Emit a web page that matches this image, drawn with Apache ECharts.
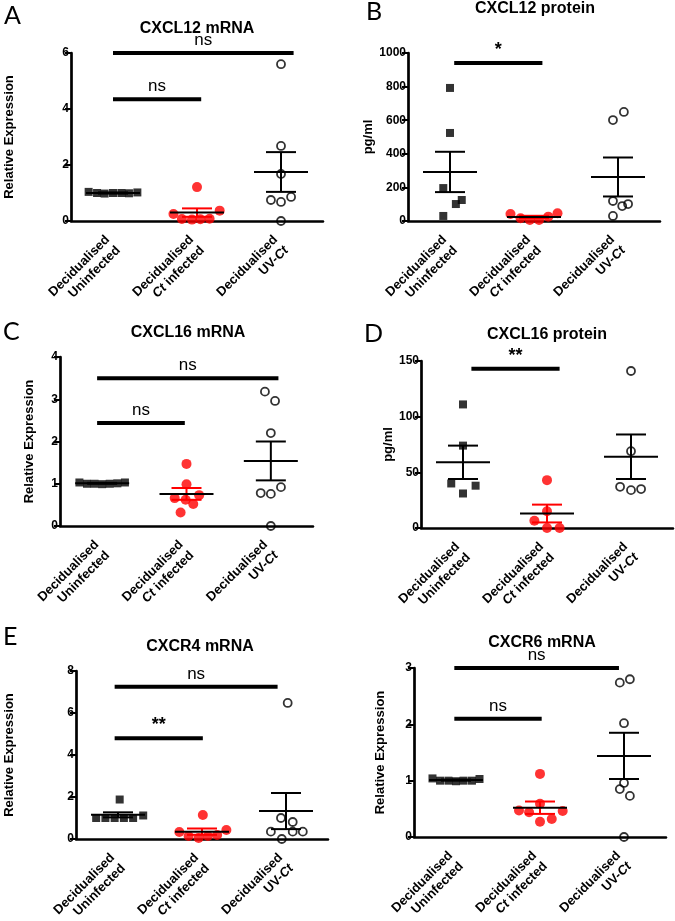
<!DOCTYPE html>
<html>
<head>
<meta charset="utf-8">
<title>Chemokine expression in decidualised cells</title>
<script src="https://cdn.jsdelivr.net/npm/echarts@6/dist/echarts.min.js"></script>
<style>
html, body { margin: 0; padding: 0; background: #fff; }
#chart { width: 675px; height: 921px; }
</style>
</head>
<body>
<div id="chart"></div>
<script>
// x categories, Ct in italics through rich text
const categories = ['Decidualised\nUninfected', 'Decidualised\n{i|Ct} infected', 'Decidualised\nUV-{i|Ct}'];

const titles = ['CXCL12 mRNA', 'CXCL12 protein', 'CXCL16 mRNA', 'CXCL16 protein', 'CXCR4 mRNA', 'CXCR6 mRNA'];
const letters = ['A', 'B', 'C', 'D', 'E', ''];
const yNames = ['Relative Expression', 'pg/ml', 'Relative Expression', 'pg/ml', 'Relative Expression', 'Relative Expression'];
const yMax = [6, 1000, 4, 150, 8, 3];
const yStep = [2, 200, 1, 50, 2, 1];

// A - CXCL12 mRNA
const a_uninf = [1.04, 1.0, 0.98, 1.0, 1.0, 0.99, 1.02];
const a_uninfJit = [-0.29, -0.19, -0.1, 0, 0.1, 0.19, 0.29];
const a_ct = [0.25, 0.07, 0.05, 1.21, 0.06, 0.08, 0.37];
const a_ctJit = [-0.28, -0.18, -0.06, 0, 0.04, 0.15, 0.27];
const a_uv = [5.6, 2.68, 1.68, 0.75, 0.68, 0.86, 0];
const a_uvJit = [0, 0, 0, -0.12, 0, 0.12, 0];
const a_mean = [1.0, 0.3, 1.75];
const a_sem = [0.02, 0.15, 0.71];
const a_sig = [[0, 2.15, 6.0], [0, 1.05, 4.35]];
const a_sigText = ['ns', 'ns'];

// B - CXCL12 protein
const b_uninf = [792, 524, 196, 30, 101, 125];
const b_uninfJit = [0, 0, -0.08, -0.08, 0.07, 0.14];
const b_ct = [42, 16, 6, 6, 26, 46];
const b_ctJit = [-0.28, -0.16, -0.05, 0.06, 0.17, 0.28];
const b_uv = [601, 649, 119, 30, 89, 101];
const b_uvJit = [-0.06, 0.07, -0.06, -0.06, 0.05, 0.12];
const b_mean = [292, 24, 262];
const b_sem = [120, 7, 116];
const b_sig = [[0.05, 1.1, 940]];
const b_sigText = ['*'];

// C - CXCL16 mRNA
const c_uninf = [1.03, 1.0, 1.0, 0.99, 1.0, 1.01, 1.03];
const c_uninfJit = [-0.27, -0.18, -0.09, 0, 0.09, 0.18, 0.27];
const c_ct = [1.47, 0.99, 0.66, 0.62, 0.73, 0.52, 0.32];
const c_ctJit = [0, 0, -0.14, -0.01, 0.15, 0.08, -0.07];
const c_uv = [3.18, 2.96, 2.2, 0.78, 0.76, 0.92, 0];
const c_uvJit = [-0.07, 0.05, 0, -0.12, 0, 0.12, 0];
const c_mean = [1.01, 0.76, 1.54];
const c_sem = [0.01, 0.14, 0.46];
const c_sig = [[-0.06, 2.09, 3.5], [-0.06, 0.98, 2.44]];
const c_sigText = ['ns', 'ns'];

// D - CXCL16 protein
const d_uninf = [111, 74, 40, 31, 38];
const d_uninfJit = [0, 0, -0.14, 0, 0.15];
const d_ct = [43, 15, 6.5, 0, 0];
const d_ctJit = [0, 0, -0.15, 0, 0.15];
const d_uv = [141, 69, 37, 34, 35];
const d_uvJit = [0, 0, -0.13, 0, 0.12];
const d_mean = [59, 13, 64];
const d_sem = [15, 8, 20];
const d_sig = [[0.1, 1.15, 143]];
const d_sigText = ['**'];

// E - CXCR4 mRNA
const e_uninf = [1.0, 1.0, 1.0, 1.0, 1.0, 1.12, 1.88];
const e_uninfJit = [-0.26, -0.15, -0.04, 0.07, 0.18, 0.3, 0.02];
const e_ct = [0.33, 0.14, 0.05, 1.14, 0.14, 0.19, 0.43];
const e_ctJit = [-0.27, -0.16, -0.04, 0.01, 0.07, 0.18, 0.29];
const e_uv = [6.48, 1.0, 0.81, 0.35, 0.35, 0.35, 0];
const e_uvJit = [0.02, -0.06, 0.08, -0.18, 0.08, 0.2, -0.05];
const e_mean = [1.15, 0.35, 1.33];
const e_sem = [0.12, 0.15, 0.86];
const e_sig = [[-0.04, 1.9, 7.25], [-0.04, 1.01, 4.8]];
const e_sigText = ['ns', '**'];

// F - CXCR6 mRNA
const f_uninf = [1.04, 1.0, 1.0, 0.99, 1.0, 1.0, 1.03];
const f_uninfJit = [-0.28, -0.19, -0.09, 0, 0.09, 0.19, 0.28];
const f_ct = [1.12, 0.59, 0.47, 0.44, 0.46, 0.32, 0.27];
const f_ctJit = [0, 0, -0.25, -0.13, 0.27, 0.14, 0];
const f_uv = [2.74, 2.8, 2.02, 0.96, 0.85, 0.73, 0];
const f_uvJit = [-0.05, 0.07, 0, 0, -0.05, 0.07, 0];
const f_mean = [1.01, 0.52, 1.44];
const f_sem = [0.01, 0.11, 0.41];
const f_sig = [[-0.02, 1.94, 3.0], [-0.02, 1.02, 2.1]];
const f_sigText = ['ns', 'ns'];

const panels = [
  { uninf: a_uninf, uninfJit: a_uninfJit, ct: a_ct, ctJit: a_ctJit, uv: a_uv, uvJit: a_uvJit, mean: a_mean, sem: a_sem, sig: a_sig, sigText: a_sigText },
  { uninf: b_uninf, uninfJit: b_uninfJit, ct: b_ct, ctJit: b_ctJit, uv: b_uv, uvJit: b_uvJit, mean: b_mean, sem: b_sem, sig: b_sig, sigText: b_sigText },
  { uninf: c_uninf, uninfJit: c_uninfJit, ct: c_ct, ctJit: c_ctJit, uv: c_uv, uvJit: c_uvJit, mean: c_mean, sem: c_sem, sig: c_sig, sigText: c_sigText },
  { uninf: d_uninf, uninfJit: d_uninfJit, ct: d_ct, ctJit: d_ctJit, uv: d_uv, uvJit: d_uvJit, mean: d_mean, sem: d_sem, sig: d_sig, sigText: d_sigText },
  { uninf: e_uninf, uninfJit: e_uninfJit, ct: e_ct, ctJit: e_ctJit, uv: e_uv, uvJit: e_uvJit, mean: e_mean, sem: e_sem, sig: e_sig, sigText: e_sigText },
  { uninf: f_uninf, uninfJit: f_uninfJit, ct: f_ct, ctJit: f_ctJit, uv: f_uv, uvJit: f_uvJit, mean: f_mean, sem: f_sem, sig: f_sig, sigText: f_sigText }
];

// pixel layout of each panel
const layout = [
  { left: 71, top: 53, width: 252, height: 168, nameGap: 55, tx: 197, ty: 29, lx: 4, ly: 3 },
  { left: 408, top: 53, width: 252, height: 168, nameGap: 29, tx: 535, ty: 9, lx: 366, ly: -1 },
  { left: 60, top: 357, width: 253, height: 169, nameGap: 24, tx: 188, ty: 333, lx: 3, ly: 319 },
  { left: 421, top: 361, width: 252, height: 167, nameGap: 26, tx: 547, ty: 335, lx: 364, ly: 321 },
  { left: 76, top: 671, width: 252, height: 168, nameGap: 60, tx: 200, ty: 647, lx: 3, ly: 624 },
  { left: 414, top: 668, width: 252, height: 169, nameGap: 27, tx: 542, ty: 643, lx: 0, ly: 0 }
];

const FONT = 'Liberation Sans, Arial, sans-serif';
const RED = '#ff0000';

function pts(vals, jit, g) {
  return vals.map((v, i) => [g + jit[i], v]);
}

const option = { animation: false, backgroundColor: '#fff', title: [], grid: [], xAxis: [], yAxis: [], series: [] };

panels.forEach((p, i) => {
  const L = layout[i];
  option.grid.push({ left: L.left, top: L.top, width: L.width, height: L.height, containLabel: false, outerBoundsMode: 'none' });

  option.title.push({
    text: titles[i], left: L.tx, top: L.ty, textAlign: 'center', textVerticalAlign: 'middle', padding: 0,
    textStyle: { fontFamily: FONT, fontWeight: 'bold', fontSize: 16, color: '#000' }
  });
  if (letters[i]) {
    option.title.push({
      text: letters[i], left: L.lx, top: L.ly, padding: 0,
      textStyle: { fontFamily: 'Lato, Open Sans, sans-serif', fontWeight: 'normal', fontSize: 25, color: '#000' }
    });
  }

  // category axis carries the labels and ticks
  option.xAxis.push({
    type: 'category', gridIndex: i, data: categories, boundaryGap: true,
    axisLine: { onZero: false, lineStyle: { color: '#000', width: 2.5 } },
    axisTick: { alignWithLabel: true, length: 7, lineStyle: { color: '#000', width: 2 } },
    axisLabel: {
      interval: 0, rotate: 45, margin: 22, color: '#000', fontFamily: FONT, fontWeight: 'bold',
      fontSize: 13, lineHeight: 15,
      rich: { i: { fontStyle: 'italic', fontWeight: 'bold', fontFamily: FONT, fontSize: 13, color: '#000' } }
    },
    splitLine: { show: false }
  });
  // hidden value axis for jittered points
  option.xAxis.push({ type: 'value', gridIndex: i, min: -0.5, max: 2.5, show: false });

  option.yAxis.push({
    type: 'value', gridIndex: i, min: 0, max: yMax[i], interval: yStep[i],
    name: yNames[i], nameLocation: 'middle', nameGap: L.nameGap,
    nameTextStyle: { fontFamily: FONT, fontWeight: 'bold', fontSize: 13, color: '#000' },
    axisLine: { show: true, onZero: false, lineStyle: { color: '#000', width: 2.7 } },
    axisTick: { show: true, length: 6, lineStyle: { color: '#000', width: 2 } },
    axisLabel: { color: '#000', fontFamily: FONT, fontWeight: 'bold', fontSize: 12, margin: 2, formatter: v => String(v) },
    splitLine: { show: false }
  });

  const xi = 2 * i + 1;
  option.series.push({
    type: 'scatter', xAxisIndex: xi, yAxisIndex: i, clip: false, z: 3,
    symbol: 'rect', symbolSize: 8, itemStyle: { color: '#000' },
    data: pts(p.uninf, p.uninfJit, 0)
  });
  option.series.push({
    type: 'scatter', xAxisIndex: xi, yAxisIndex: i, clip: false, z: 3,
    symbol: 'circle', symbolSize: 10, itemStyle: { color: RED },
    data: pts(p.ct, p.ctJit, 1)
  });
  option.series.push({
    type: 'scatter', xAxisIndex: xi, yAxisIndex: i, clip: false, z: 3,
    symbol: 'circle', symbolSize: 8,
    itemStyle: { color: 'rgba(0,0,0,0)', borderColor: '#000', borderWidth: 1.8 },
    data: pts(p.uv, p.uvJit, 2)
  });

  // mean +/- SEM
  option.series.push({
    type: 'custom', xAxisIndex: xi, yAxisIndex: i, clip: false, z: 4,
    data: p.mean.map((m, g) => [g, m, p.sem[g]]),
    renderItem: (params, api) => {
      const g = api.value(0), m = api.value(1), s = api.value(2);
      const c = api.coord([g, m]);
      const hi = api.coord([g, m + s]);
      const lo = api.coord([g, m - s]);
      const col = g === 1 ? RED : '#000';
      const ln = (x1, y1, x2, y2, color) => ({
        type: 'line', shape: { x1, y1, x2, y2 }, style: { stroke: color, lineWidth: 2 }
      });
      return {
        type: 'group',
        children: [
          ln(c[0], lo[1], c[0], hi[1], col),
          ln(c[0] - 15, hi[1], c[0] + 15, hi[1], col),
          ln(c[0] - 15, lo[1], c[0] + 15, lo[1], col),
          ln(c[0] - 27, c[1], c[0] + 27, c[1], '#000')
        ]
      };
    }
  });

  // significance bars
  option.series.push({
    type: 'custom', xAxisIndex: xi, yAxisIndex: i, clip: false, z: 5,
    data: p.sig,
    renderItem: (params, api) => {
      const a = api.coord([api.value(0), api.value(2)]);
      const b = api.coord([api.value(1), api.value(2)]);
      const txt = p.sigText[params.dataIndex];
      const star = txt.indexOf('*') >= 0;
      return {
        type: 'group',
        children: [
          { type: 'line', shape: { x1: a[0], y1: a[1], x2: b[0], y2: b[1] }, style: { stroke: '#000', lineWidth: 4 } },
          {
            type: 'text',
            style: {
              text: txt, x: (a[0] + b[0]) / 2, y: a[1] - 4, align: 'center', verticalAlign: 'bottom',
              fontFamily: FONT, fontSize: star ? 18 : 17, fontWeight: star ? 'bold' : 'normal', fill: '#000'
            }
          }
        ]
      };
    }
  });
});

const chart = echarts.init(document.getElementById('chart'));
chart.setOption(option);
</script>
</body>
</html>
